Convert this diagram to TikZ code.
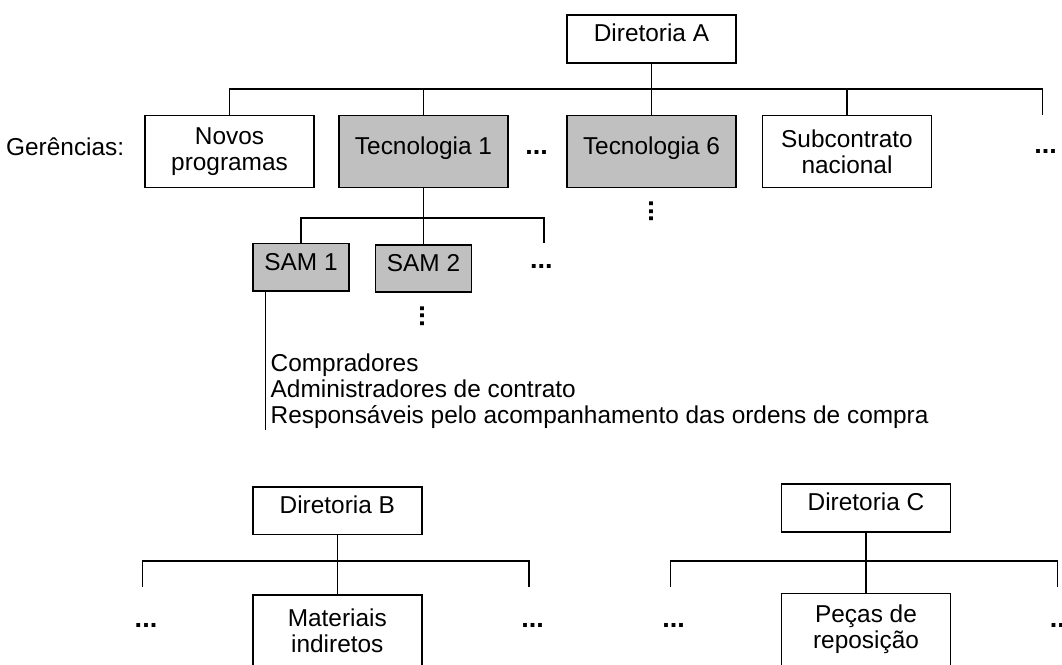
\documentclass[tikz,border=0pt]{standalone}
\usepackage{fontspec}
\setmainfont{Liberation Sans}
\definecolor{boxgrey}{RGB}{192,192,192}
\begin{document}
\begin{tikzpicture}[x=1pt,y=-1pt]
\tikzset{
  box/.style={draw=black, line width=1.6pt, fill=white, minimum width=169pt, minimum height=72pt, inner sep=0pt, align=center, font=\fontsize{24.4}{26}\selectfont},
  small/.style={minimum height=47.5pt},
  samw/.style={minimum width=96pt},
  one/.style={text height=17.5pt, text depth=12pt},
  grey/.style={fill=boxgrey},
  link/.style={line width=1.4pt},
  dots/.style={inner sep=0pt, font=\fontsize{27}{27}\selectfont\bfseries},
  lbl/.style={inner sep=0pt, anchor=base west, font=\fontsize{24.4}{26}\selectfont}
}
\useasboundingbox (0,0) rectangle (1062,664);
\fill[white] (0,0) rectangle (1062,664);

% Diretoria A tree
\node[box, small, one] (DA) at (651.5,39) {Diretoria A};
\node[box] (NP) at (229.5,151.5) {Novos\\programas};
\node[box, one, grey] (T1) at (423.5,151.5) {Tecnologia 1};
\node[box, one, grey] (T6) at (651.5,151.5) {Tecnologia 6};
\node[box] (SC) at (847,151.5) {Subcontrato\\nacional};
\node[lbl] (ger) at (6,155) {Gerências:};
\node[dots] (d1) at (536.5,152.7) {...};
\node[dots] (d2) at (1045.5,151.7) {...};
\node[dots, rotate=90] (v1) at (651.5,211.7) {...};

\coordinate (barA) at (0,89);
\coordinate (aR) at (1042.7,115);
\draw[link] (NP.north) -- (NP.north |- barA) -- (aR |- barA) -- (aR);
\draw[link] (T1.north) -- (T1.north |- barA);
\draw[link] (DA.south) -- (T6.north);
\draw[link] (SC.north) -- (SC.north |- barA);

% SAM level
\node[box, small, samw, one, grey] (S1) at (301,267.3) {SAM 1};
\node[box, small, samw, one, grey] (S2) at (423.5,268.5) {SAM 2};
\node[dots] (d3) at (541.3,266.7) {...};
\node[dots, rotate=90] (v2) at (422.5,315.8) {...};

\coordinate (barS) at (0,218);
\coordinate (sR) at (544,243.3);
\draw[link] (S1.north) -- (S1.north |- barS) -- (sR |- barS) -- (sR);
\draw[link] (T1.south) -- (S2.north);

\coordinate (sEnd) at (265.5,430);
\draw[link] (sEnd |- S1.south) -- (sEnd);
\node[lbl] (t1) at (270.5,371.7) {Compradores};
\node[lbl] (t2) at (270.5,397.5) {Administradores de contrato};
\node[lbl] (t3) at (270.5,423.3) {Responsáveis pelo acompanhamento das ordens de compra};

% Diretoria B tree
\node[box, small, one] (DB) at (337.3,510.7) {Diretoria B};
\node[box] (MI) at (337.3,631) {Materiais\\indiretos};
\node[dots] (d4) at (146,625.7) {...};
\node[dots] (d5) at (532.7,625.7) {...};
\coordinate (barB) at (0,561);
\coordinate (bL) at (142.7,586.7);
\coordinate (bR) at (529,586.7);
\draw[link] (bL) -- (bL |- barB) -- (bR |- barB) -- (bR);
\draw[link] (DB.south) -- (MI.north);

% Diretoria C tree
\node[box, small, one] (DC) at (866,508) {Diretoria C};
\node[box] (PR) at (866,629.3) {Peças de\\reposição};
\node[dots] (d6) at (673.5,625.7) {...};
\node[dots] (d7) at (1061.2,625.7) {...};
\coordinate (cL) at (670.7,586.7);
\coordinate (cR) at (1057.3,586.7);
\draw[link] (cL) -- (cL |- barB) -- (cR |- barB) -- (cR);
\draw[link] (DC.south) -- (PR.north);
\end{tikzpicture}
\end{document}
